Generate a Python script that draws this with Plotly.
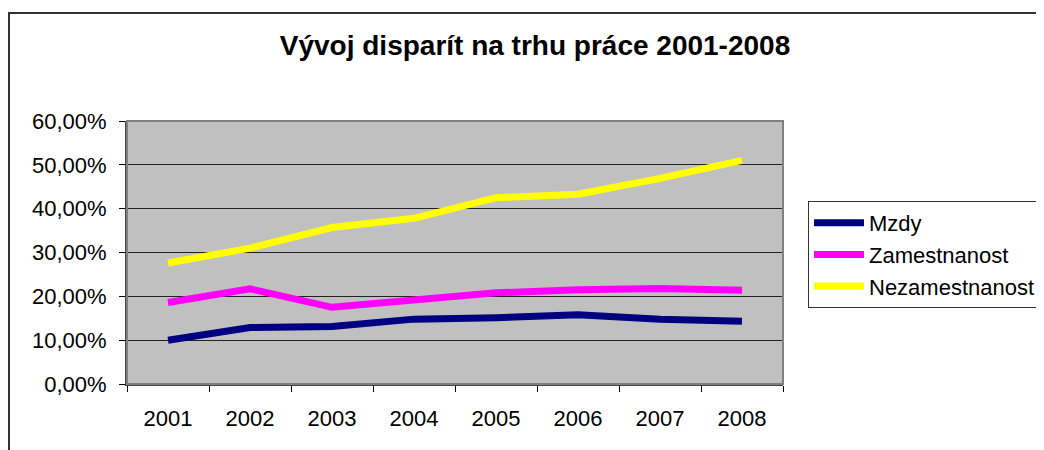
import plotly.graph_objects as go

years = ["2001", "2002", "2003", "2004", "2005", "2006", "2007", "2008"]
mzdy = [0.100, 0.129, 0.131, 0.148, 0.151, 0.158, 0.148, 0.143]
zamestnanost = [0.186, 0.217, 0.175, 0.193, 0.208, 0.215, 0.218, 0.214]
nezamestnanost = [0.276, 0.310, 0.357, 0.378, 0.425, 0.433, 0.469, 0.510]
y_ticks = [0, 0.1, 0.2, 0.3, 0.4, 0.5, 0.6]

series = [
    ("Mzdy", mzdy, "#000080"),
    ("Zamestnanost", zamestnanost, "#FF00FF"),
    ("Nezamestnanost", nezamestnanost, "#FFFF00"),
]

fig = go.Figure()
for name, vals, col in series:
    fig.add_trace(go.Scatter(x=years, y=vals, name=name, mode="lines",
                             line=dict(color=col, width=7)))

# page body has an 8px margin; figure coordinates = screen - 8
OFF = 8
W, H = 1044 - OFF, 450 - OFF
L, T = 127 - OFF, 121 - OFF
R = W - (783 - OFF)
B = H - (384 - OFF)
pw, ph = W - L - R, H - T - B

def px(x):
    return (x - OFF - L) / pw

def py(y):
    return (H - B - (y - OFF)) / ph

fig.update_layout(
    width=W, height=H,
    margin=dict(l=L, r=R, t=T, b=B, autoexpand=False),
    paper_bgcolor="white",
    plot_bgcolor="#C0C0C0",
    separators=", ",
    font=dict(family="Liberation Sans, Arial, sans-serif", size=22, color="black"),
    title=dict(text="<b>Vývoj disparít na trhu práce 2001-2008</b>",
               x=(535 - OFF) / W, xanchor="center", y=1 - (45 - OFF) / H,
               yanchor="middle", font=dict(size=28, color="black")),
    showlegend=True,
    legend=dict(x=px(808), y=py(201), xanchor="left", yanchor="top",
                bordercolor="#333333", borderwidth=1, bgcolor="white",
                font=dict(size=22), tracegroupgap=0, itemwidth=50),
    xaxis=dict(type="category", tickson="boundaries", ticks="outside",
               ticklen=6, tickcolor="black", showgrid=False,
               showline=True, linecolor="#444444", linewidth=2,
               mirror=False, range=[-0.5, 7.5], ticklabelstandoff=14),
    yaxis=dict(range=[0, 0.6], tickvals=y_ticks, tickformat=".2%",
               ticks="outside", ticklen=6, tickcolor="black",
               showgrid=True, gridcolor="#222222", gridwidth=1,
               showline=True, linecolor="#444444", linewidth=2,
               zeroline=False, ticklabelstandoff=8),
)

# plot area border
fig.add_shape(type="rect", xref="paper", yref="paper", x0=0, y0=0, x1=1, y1=1,
              line=dict(color="#808080", width=2), layer="above")
# outer chart border (extends beyond right and bottom edges)
fig.add_shape(type="rect", xref="paper", yref="paper",
              x0=px(9), y0=py(480), x1=px(1080), y1=py(13),
              line=dict(color="#333333", width=2), layer="above")

fig.write_html("out.html")
